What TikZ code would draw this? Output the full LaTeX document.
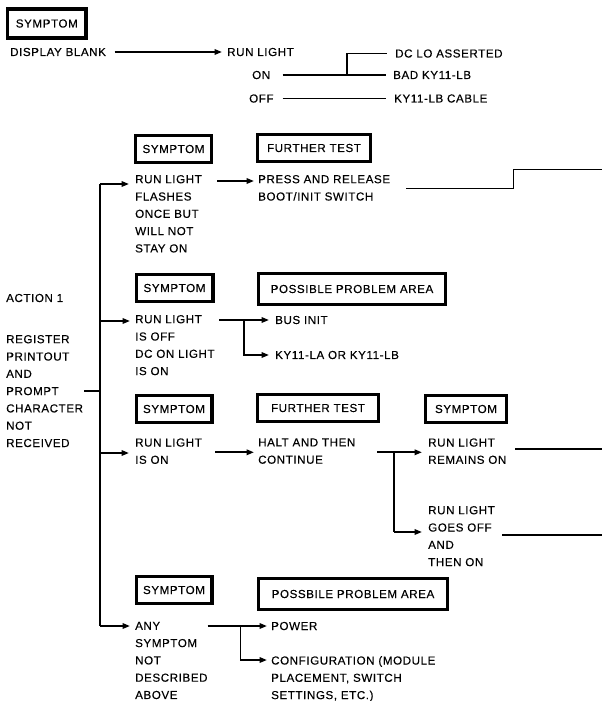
\documentclass[tikz,border=0pt]{standalone}
\usepackage{fontspec}
\setmainfont{Liberation Sans}[LetterSpace=5,FakeBold=0.3]
\usetikzlibrary{arrows.meta,calc}
\begin{document}
\begin{tikzpicture}[x=1pt,y=-1pt,
  every node/.style={inner sep=0pt, font=\fontsize{11.6}{17.3}\selectfont},
  txt/.style={anchor=west},
  mtxt/.style={anchor=north west, align=left},
  hbox/.style={draw, line width=3.3pt, anchor=center},
  conn/.style={line width=1.8pt},
  arr/.style={conn, -{Triangle[length=7.5pt,width=5.5pt]}}]
\useasboundingbox (0,0) rectangle (602,701);

% ---------- top section ----------
\node[hbox, line width=3.6pt, minimum width=78.4pt, minimum height=29.4pt] (s0) at (46.8,23.5) {SYMPTOM};
\node[txt] (db) at (10,52) {DISPLAY BLANK};
\node[txt] (rl0) at (227,52) {RUN LIGHT};
\node[txt] (on) at (252,75) {ON};
\node[txt] (off) at (249,98.5) {OFF};
\node[txt] (dclo) at (395,53.5) {DC LO ASSERTED};
\node[txt] (bad) at (393,75) {BAD KY11-LB};
\node[txt] (cab) at (394,98.5) {KY11-LB CABLE};
\coordinate (a0) at (114.6,52);
\draw[arr] (a0) -- ($(rl0.west)+(-5,0)$);
\coordinate (onr) at (282.7,75);
\coordinate (j0) at (347,75);
\draw[conn] (onr) -- ($(bad.west)+(-7,0)$);
\draw[conn] (j0) |- ($(dclo.west)+(-8,0)$);
\coordinate (offr) at (282.7,98.5);
\draw[conn] (offr) -- ($(cab.west)+(-8,0)$);

% ---------- left spine ----------
\node[txt] (act) at (6,298) {ACTION 1};
\node[mtxt] (reg) at (6,334.9) {REGISTER\\PRINTOUT\\AND\\PROMPT\\CHARACTER\\NOT\\RECEIVED};
\coordinate (sp1) at (100,184);
\coordinate (sp5) at (100,626);
\coordinate (pr) at (84,391);
\draw[conn] (sp1) -- (sp5);
\draw[conn] (pr) -- (pr -| sp1);

% ---------- branch 1 ----------
\node[hbox, minimum width=75.7pt, minimum height=26.7pt] (s1) at (173.5,149) {SYMPTOM};
\node[hbox, minimum width=112.7pt, minimum height=26.7pt] (f1) at (314,148) {FURTHER TEST};
\node[mtxt] (t1) at (135,174.9) {RUN LIGHT\\FLASHES\\ONCE BUT\\WILL NOT\\STAY ON};
\node[mtxt] (f1t) at (258,174.9) {PRESS AND RELEASE\\BOOT/INIT SWITCH};
\draw[arr] (sp1) -- ($(sp1 -| t1.west)+(-6,0)$);
\coordinate (a1) at (217,181);
\draw[arr] (a1) -- ($(a1 -| f1t.west)+(-4,0)$);
\coordinate (st1) at (406,188.5);
\coordinate (st1m) at (513.5,169.5);
\coordinate (st1e) at (602,169.5);
\draw[conn] (st1) -| (st1m) -- (st1e);

% ---------- branch 2 ----------
\node[hbox, minimum width=76.7pt, minimum height=26.7pt] (s2) at (174.5,288) {SYMPTOM};
\node[hbox, minimum width=186.7pt, minimum height=30.7pt] (p1) at (352,289) {POSSIBLE PROBLEM AREA};
\node[mtxt] (t2) at (135,314.9) {RUN LIGHT\\IS OFF\\DC ON LIGHT\\IS ON};
\node[txt] (bus) at (275,320) {BUS INIT};
\node[txt] (kyla) at (275,355) {KY11-LA OR KY11-LB};
\coordinate (sp2) at (100,321);
\draw[arr] (sp2) -- ($(sp2 -| t2.west)+(-5,0)$);
\coordinate (a2) at (219,320);
\coordinate (j2) at (244,320);
\draw[arr] (a2) -- ($(bus.west)+(-6,0)$);
\draw[arr] (j2) |- ($(kyla.west)+(-6,0)$);

% ---------- branch 3 ----------
\node[hbox, minimum width=75.7pt, minimum height=26.7pt] (s3) at (174,409) {SYMPTOM};
\node[hbox, minimum width=120.7pt, minimum height=26.7pt] (f2) at (318,408) {FURTHER TEST};
\node[hbox, minimum width=80.7pt, minimum height=26.7pt] (s4) at (466,409) {SYMPTOM};
\node[mtxt] (t3) at (135,438.2) {RUN LIGHT\\IS ON};
\node[mtxt] (f2t) at (258,438.2) {HALT AND THEN\\CONTINUE};
\node[mtxt] (t4) at (428,438.2) {RUN LIGHT\\REMAINS ON};
\node[mtxt] (t5) at (428,505.9) {RUN LIGHT\\GOES OFF\\AND\\THEN ON};
\coordinate (sp3) at (100,453);
\draw[arr] (sp3) -- ($(sp3 -| t3.west)+(-6,0)$);
\coordinate (a3) at (215.4,452.3);
\draw[arr] (a3) -- ($(a3 -| f2t.west)+(-4,0)$);
\coordinate (a4) at (377,452.3);
\coordinate (j4) at (394,452.3);
\coordinate (j5) at (394,532);
\draw[conn] (a4) -- (j4) -- (j5);
\draw[arr] (j4) -- ($(j4 -| t4.west)+(-6,0)$);
\draw[arr] (j5) -- ($(j5 -| t5.west)+(-6,0)$);
\coordinate (o4) at (515,449.3);
\coordinate (o4e) at (602,449.3);
\draw[conn] (o4) -- (o4e);
\coordinate (o5) at (502,535);
\coordinate (o5e) at (602,535);
\draw[conn] (o5) -- (o5e);

% ---------- branch 4 ----------
\node[hbox, minimum width=75.7pt, minimum height=26.7pt] (s5) at (174,590) {SYMPTOM};
\node[hbox, minimum width=188.7pt, minimum height=30.7pt] (p2) at (353,594) {POSSBILE PROBLEM AREA};
\node[mtxt] (t6) at (135,621.6) {ANY\\SYMPTOM\\NOT\\DESCRIBED\\ABOVE};
\node[txt] (pow) at (271,626) {POWER};
\node[mtxt] (cfg) at (271,655.9) {CONFIGURATION (MODULE\\PLACEMENT, SWITCH\\SETTINGS, ETC.)};
\draw[arr] (sp5) -- ($(sp5 -| t6.west)+(-5,0)$);
\coordinate (a6) at (207.7,626);
\coordinate (j6) at (240.4,626);
\draw[arr] (a6) -- ($(pow.west)+(-4,0)$);
\draw[arr] (j6) |- ($(cfg.north west)+(-4,4.1)$);
\end{tikzpicture}
\end{document}
